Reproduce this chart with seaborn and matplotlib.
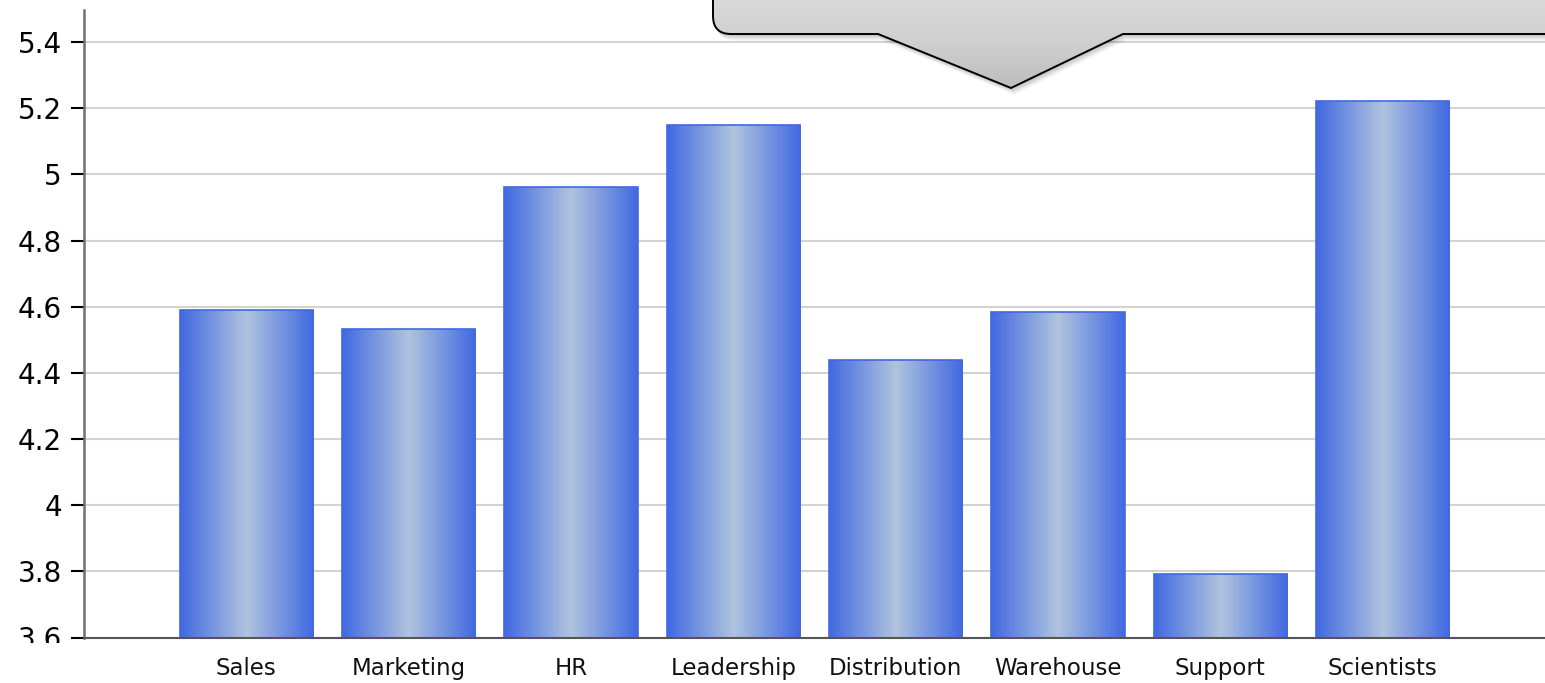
import numpy as np
import pandas as pd
import matplotlib
matplotlib.use("Agg")
import matplotlib.pyplot as plt
import seaborn as sns
from matplotlib.colors import LinearSegmentedColormap
from matplotlib.path import Path
from matplotlib.patches import PathPatch
from matplotlib.transforms import Bbox

categories = ["Sales", "Marketing", "HR", "Leadership", "Distribution", "Warehouse", "Support", "Scientists"]
values = [4.589, 4.532, 4.962, 5.149, 4.438, 4.583, 3.791, 5.222]
ytick_values = [3.6, 3.8, 4.0, 4.2, 4.4, 4.6, 4.8, 5.0, 5.2, 5.4]
ytick_labels = ["3.6", "3.8", "4", "4.2", "4.4", "4.6", "4.8", "5", "5.2", "5.4"]

sns.set_theme(style="white")
plt.rcParams['font.family'] = ['DejaVu Sans']

W, H = 1545, 683
fig = plt.figure(figsize=(W / 100, H / 100), dpi=100)
ax = fig.add_axes([84 / W, (H - 637.5) / H, 1 - 84 / W, (637.5 - 10) / H])

df = pd.DataFrame({"category": categories, "value": values})
sns.barplot(data=df, x="category", y="value", order=categories, ax=ax,
            width=0.82, color="#4169E1", edgecolor="#4169E1", linewidth=1.2,
            saturation=1)

YMIN, YMAX = 3.6, 5.497
ax.set_xlim(-1, len(categories))
ax.set_ylim(YMIN, YMAX)
ax.set_xlabel("")
ax.set_ylabel("")

# gradient fill inside bars
cmap = LinearSegmentedColormap.from_list("barg", ["#4169E1", "#B0C4DE", "#4169E1"])
grad = np.linspace(0, 1, 256).reshape(1, -1)
for p in list(ax.patches):
    x0, y0 = p.get_x(), p.get_y()
    w, h = p.get_width(), p.get_height()
    im = ax.imshow(grad, cmap=cmap, aspect="auto", extent=[x0, x0 + w, YMIN, y0 + h],
                   zorder=p.get_zorder(), interpolation="bilinear")
    im.set_clip_path(p)
    p.set_facecolor("none")
    p.set_zorder(p.get_zorder() + 0.1)
ax.set_xlim(-1, len(categories))
ax.set_ylim(YMIN, YMAX)

ax.set_yticks(ytick_values)
ax.set_yticklabels(ytick_labels)
ax.yaxis.grid(True, color="#d3d3d3", linewidth=1.5)
ax.xaxis.grid(False)
ax.set_axisbelow(True)

ax.tick_params(axis="y", left=True, length=9.5, width=1.5, color="black",
               pad=6.5, labelsize=20, labelcolor="black")
ax.tick_params(axis="x", bottom=False, length=0, pad=14, labelsize=16.5, labelcolor="#111111")

for s in ["top", "right"]:
    ax.spines[s].set_visible(False)
ax.spines["left"].set_color("#707070")
ax.spines["left"].set_linewidth(1.8)
ax.spines["bottom"].set_color("#555555")
ax.spines["bottom"].set_linewidth(1.5)

# clip the lowest y label as in the reference
fig.canvas.draw()
clipbox = Bbox.from_extents(0, H - 643, W, H)
for lab in ax.get_yticklabels():
    lab.set_clip_box(clipbox)
    lab.set_clip_on(True)

# tooltip callout in pixel coordinates
ov = fig.add_axes([0, 0, 1, 1], zorder=10)
ov.set_xlim(0, W)
ov.set_ylim(H, 0)
ov.axis("off")
ov.patch.set_alpha(0)

r = 18
def callout_path(dx=0, dy=0):
    verts = [(713 + dx, -10 + dy), (713 + dx, 34 - r + dy), (713 + dx, 34 + dy), (713 + r + dx, 34 + dy),
             (878 + dx, 34 + dy), (1011 + dx, 88 + dy), (1123 + dx, 34 + dy), (1600 + dx, 34 + dy),
             (1600 + dx, -10 + dy), (713 + dx, -10 + dy)]
    codes = [Path.MOVETO, Path.LINETO, Path.CURVE3, Path.CURVE3, Path.LINETO, Path.LINETO,
             Path.LINETO, Path.LINETO, Path.LINETO, Path.CLOSEPOLY]
    return Path(verts, codes)

# soft shadow
for i, a in enumerate([0.06, 0.05, 0.05, 0.04, 0.03]):
    sp = PathPatch(callout_path(1 + i * 0.6, 2 + i * 1.2), facecolor="black", edgecolor="none", alpha=a)
    ov.add_patch(sp)

body = PathPatch(callout_path(), facecolor="none", edgecolor="black", linewidth=1.4, zorder=3)
ov.add_patch(body)
vg = np.linspace(0, 1, 256).reshape(-1, 1)
gcmap = LinearSegmentedColormap.from_list("gray", ["#dadada", "#d0d0d0", "#bdbdbd"])
gim = ov.imshow(vg, cmap=gcmap, aspect="auto", extent=[700, 1600, 90, -10], zorder=2)
gim.set_clip_path(body)
ov.set_xlim(0, W)
ov.set_ylim(H, 0)

fig.savefig("out.png", dpi=100)
